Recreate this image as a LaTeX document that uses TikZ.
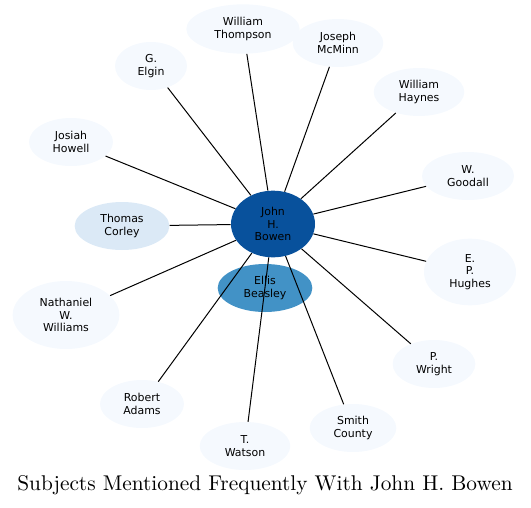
\documentclass[tikz,border=0pt]{standalone}
\usepackage{fontspec}
\usepackage{graphicx}
\usepackage{xcolor}
\usepackage{tikz}
\usetikzlibrary{shapes.geometric, positioning}
\newfontfamily\labelfont{DejaVu Sans}
\definecolor{hubblue}{HTML}{08519C}
\definecolor{midblue}{HTML}{4292C6}
\definecolor{paleblue}{HTML}{DBE9F6}
\definecolor{faintblue}{HTML}{F5F9FE}

\begin{document}
\begin{tikzpicture}[x=0.75pt, y=-0.75pt,
    subj/.style={ellipse, fill=faintblue, inner sep=0pt, align=center,
        font=\labelfont\fontsize{8.2}{9.6}\selectfont, minimum width=69pt, minimum height=36pt},
    link/.style={black, line width=0.75pt}]
        \useasboundingbox (0,0) rectangle (531,507);

        % Central subject and near neighbours
        \node[subj, fill=hubblue, minimum width=63pt, minimum height=50pt] (bowen) at (273,224) {John\\H.\\Bowen};
        \node[subj, fill=midblue, minimum width=71pt] (beasley) at (265,288) {Ellis\\Beasley};
        \node[subj, fill=paleblue, minimum width=71pt] (corley) at (122,226) {Thomas\\Corley};

        % Outer ring
        \node[subj, minimum width=85pt, minimum height=37pt] (thompson) at (243,29) {William\\Thompson};
        \node[subj, minimum width=68pt] (mcminn) at (338,43) {Joseph\\McMinn};
        \node[subj, minimum width=54pt] (elgin) at (151,66) {G.\\Elgin};
        \node[subj, minimum width=68pt] (haynes) at (419,92) {William\\Haynes};
        \node[subj, minimum width=63pt] (howell) at (71,142) {Josiah\\Howell};
        \node[subj] (goodall) at (468,176) {W.\\Goodall};
        \node[subj, minimum height=50pt] (hughes) at (470,272) {E.\\P.\\Hughes};
        \node[subj, minimum width=80pt, minimum height=51pt] (williams) at (66,315) {Nathaniel\\W.\\Williams};
        \node[subj, minimum width=62pt] (wright) at (434,364) {P.\\Wright};
        \node[subj, minimum width=63pt] (adams) at (142,404) {Robert\\Adams};
        \node[subj, minimum width=65pt] (smith) at (353,428) {Smith\\County};
        \node[subj, minimum width=68pt] (watson) at (245,446) {T.\\Watson};

        % Links from the centre
        \foreach \other in {thompson, mcminn, elgin, haynes, howell, goodall, hughes,
                            williams, wright, adams, smith, watson, corley}
            \draw[link] (bowen) -- (\other);

        % Caption
        \node (caption) at (265,485) {\scalebox{1.6}{\fontsize{10}{12}\selectfont Subjects Mentioned Frequently With John H. Bowen}};
    \end{tikzpicture}
\end{document}
